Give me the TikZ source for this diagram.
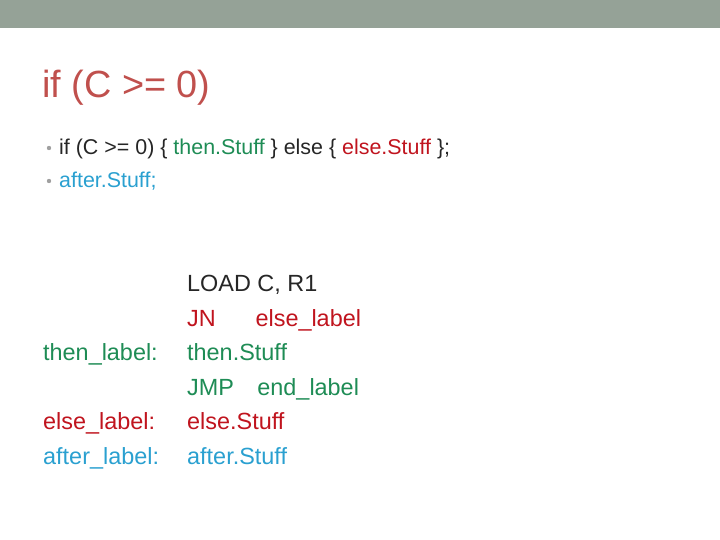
\documentclass[tikz,border=0pt]{standalone}
\usepackage{fontspec}
\setmainfont{Liberation Sans}
\definecolor{bar}{HTML}{95A297}
\definecolor{ttl}{HTML}{C0504D}
\definecolor{txt}{HTML}{262626}
\definecolor{grn}{HTML}{1E8C55}
\definecolor{rd}{HTML}{C0141E}
\definecolor{bl}{HTML}{2AA0D0}
\definecolor{bul}{HTML}{A0A0A0}
\begin{document}
\begin{tikzpicture}[x=1bp,y=-1bp,
  t/.style={anchor=base west,inner sep=0pt,font=\fontsize{23.5}{26}\selectfont},
  b/.style={anchor=base west,inner sep=0pt,font=\fontsize{21.5}{24}\selectfont}]
\useasboundingbox (0,0) rectangle (720,540);
\fill[bar] (0,0) rectangle (720,28);
\node[anchor=base west,inner sep=0pt,text=ttl,font=\fontsize{38}{42}\selectfont] (title) at (42,98) {if (C >= 0)};
\fill[bul] (49,148) circle (2.2);
\fill[bul] (49,181) circle (2.2);
\node[b,text=txt] (b1) at (59,155) {if (C >= 0) \{ \textcolor{grn}{then.Stuff} \} else \{ \textcolor{rd}{else.Stuff} \};};
\node[b,text=bl] (b2) at (59,188) {after.Stuff;};
\node[t,text=txt] (c1) at (187,291) {LOAD C, R1};
\node[t,text=rd] (c2) at (187,326) {JN\hspace{1.7em}else\_label};
\node[t,text=grn] (l3) at (43,360) {then\_label:};
\node[t,text=grn] (c3) at (187,360) {then.Stuff};
\node[t,text=grn] (c4) at (187,395) {JMP\hspace{1em}end\_label};
\node[t,text=rd] (l5) at (43,429) {else\_label:};
\node[t,text=rd] (c5) at (187,429) {else.Stuff};
\node[t,text=bl] (l6) at (43,464) {after\_label:};
\node[t,text=bl] (c6) at (187,464) {after.Stuff};
\end{tikzpicture}
\end{document}
